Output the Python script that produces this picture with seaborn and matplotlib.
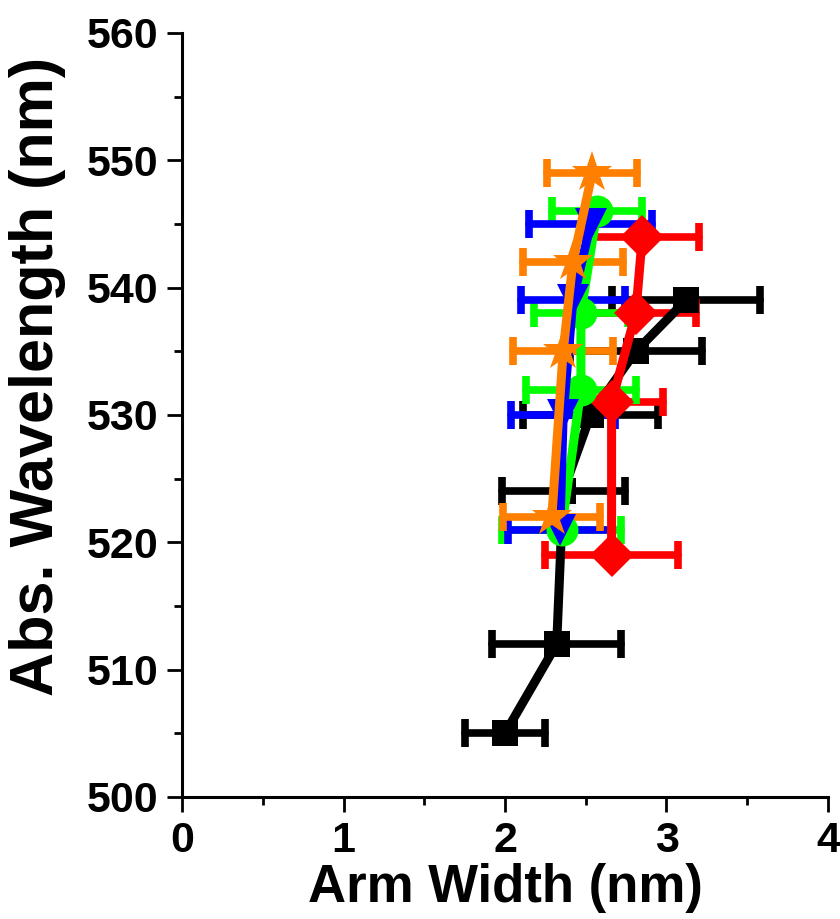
import numpy as np
import pandas as pd
import matplotlib
matplotlib.use("Agg")
import matplotlib.pyplot as plt
import seaborn as sns
from matplotlib.ticker import MultipleLocator

# black squares
blk_y = [505, 512, 524, 530, 535, 539]
blk_x = [2.00, 2.32, 2.36, 2.53, 2.81, 3.12]
blk_e = [0.25, 0.40, 0.38, 0.42, 0.41, 0.46]
# red diamonds
red_y = [519, 531, 538, 544]
red_x = [2.66, 2.66, 2.81, 2.85]
red_e = [0.41, 0.32, 0.37, 0.35]
# green circles
grn_y = [521, 532, 538, 546]
grn_x = [2.35, 2.47, 2.47, 2.57]
grn_e = [0.37, 0.34, 0.29, 0.28]
# blue down triangles
blu_y = [521, 530, 539, 545]
blu_x = [2.34, 2.36, 2.42, 2.53]
blu_e = [0.32, 0.32, 0.32, 0.38]
# orange stars
org_y = [522, 535, 542, 549]
org_x = [2.29, 2.36, 2.42, 2.54]
org_e = [0.30, 0.31, 0.31, 0.28]

series = [
    (blk_x, blk_y, blk_e, "black", "s", 19),
    (red_x, red_y, red_e, "#ff0000", "D", 22),
    (grn_x, grn_y, grn_e, "#00ff00", "o", 23),
    (blu_x, blu_y, blu_e, "#0000ff", "v", 23),
    (org_x, org_y, org_e, "#ff8000", "*", 31),
]

sns.set_theme(style="ticks")
plt.rcParams['font.family'] = ['Liberation Sans', 'DejaVu Sans']
plt.rcParams['font.weight'] = 'bold'
plt.rcParams['text.color'] = 'black'
plt.rcParams['axes.labelcolor'] = 'black'
plt.rcParams['xtick.color'] = 'black'
plt.rcParams['ytick.color'] = 'black'

fig = plt.figure(figsize=(8.4, 9.19), dpi=100)
ax = fig.add_axes([0.2167, 0.1328, 0.769, 0.8313])

for xs, ys, es, col, mk, ms in series:
    eb = ax.errorbar(xs, ys, xerr=es, fmt='none', ecolor=col, elinewidth=5.5,
                     capsize=10, capthick=5.5, zorder=2)
    for c in eb[2]:
        c.set_capstyle('round')
    for cap in eb[1]:
        cap.set_solid_capstyle('round')
    df = pd.DataFrame({'w': xs, 'wl': ys})
    sns.lineplot(data=df, x='w', y='wl', orient='y', ax=ax, color=col,
                 lw=6.5, marker=mk, markersize=ms, markeredgewidth=0,
                 solid_capstyle='round', zorder=3)

ax.set_xlim(0, 4)
ax.set_ylim(500, 560)
ax.xaxis.set_major_locator(MultipleLocator(1))
ax.xaxis.set_minor_locator(MultipleLocator(0.5))
ax.yaxis.set_major_locator(MultipleLocator(10))
ax.yaxis.set_minor_locator(MultipleLocator(5))
ax.tick_params(which='major', length=11, width=2, direction='out', labelsize=31, pad=6)
ax.tick_params(which='minor', length=6, width=2, direction='out')
for lab in ax.get_xticklabels() + ax.get_yticklabels():
    lab.set_fontweight('bold')
sns.despine(ax=ax)
for s in ['left', 'bottom']:
    ax.spines[s].set_linewidth(2.2)
    ax.spines[s].set_color('black')

ax.set_xlabel("Arm Width (nm)", fontsize=38, fontweight='bold', labelpad=2)
ax.set_ylabel("Abs. Wavelength (nm)", fontsize=44, fontweight='bold')
ax.yaxis.set_label_coords(-0.18, 0.55)

fig.savefig("out.png", dpi=100)
